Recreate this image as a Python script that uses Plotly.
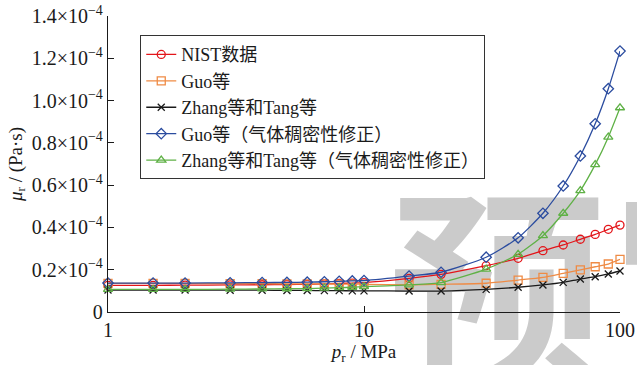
import numpy as np
import plotly.graph_objects as go

# Reduced pressure (MPa)
pressure = [1, 1.5, 2, 3, 4, 5, 6, 7, 8, 9, 10,
            15, 20, 30, 40, 50, 60, 70, 80, 90, 100]

# Viscosity values, in units of 1e-5 Pa·s
nist = [1.26, 1.26, 1.27, 1.28, 1.29, 1.30, 1.31, 1.33, 1.35, 1.37, 1.39,
        1.59, 1.78, 2.19, 2.54, 2.90, 3.17, 3.44, 3.67, 3.91, 4.11]
guo = [1.35, 1.35, 1.35, 1.34, 1.34, 1.33, 1.33, 1.33, 1.32, 1.32, 1.31,
       1.28, 1.31, 1.36, 1.51, 1.64, 1.83, 1.99, 2.14, 2.27, 2.49]
zhang_tang = [1.04, 1.04, 1.04, 1.03, 1.03, 1.02, 1.02, 1.01, 1.01, 1.00, 1.00,
              0.99, 0.99, 1.07, 1.17, 1.28, 1.40, 1.56, 1.67, 1.80, 1.94]
guo_dense = [1.37, 1.37, 1.37, 1.38, 1.39, 1.40, 1.41, 1.43, 1.45, 1.47, 1.49,
             1.70, 1.88, 2.59, 3.51, 4.67, 5.96, 7.38, 8.90, 10.56, 12.34]
zhang_tang_dense = [1.07, 1.07, 1.07, 1.08, 1.09, 1.10, 1.11, 1.13, 1.15, 1.17, 1.20,
                    1.28, 1.39, 2.03, 2.73, 3.61, 4.67, 5.74, 6.97, 8.27, 9.66]

series_names = ["NIST数据", "Guo等", "Zhang等和Tang等",
                "Guo等（气体稠密性修正）", "Zhang等和Tang等（气体稠密性修正）"]

y_tick_vals = [0, 0.2e-4, 0.4e-4, 0.6e-4, 0.8e-4, 1.0e-4, 1.2e-4, 1.4e-4]
y_tick_text = ["0", "0.2×10<sup>−4</sup>", "0.4×10<sup>−4</sup>", "0.6×10<sup>−4</sup>",
               "0.8×10<sup>−4</sup>", "1.0×10<sup>−4</sup>", "1.2×10<sup>−4</sup>",
               "1.4×10<sup>−4</sup>"]

SERIF = "Liberation Serif, Times New Roman, Noto Sans CJK SC, serif"

styles = [
    ("#e3151a", "circle-open"),
    ("#ef8b45", "square-open"),
    ("#1a1a1a", "x-thin-open"),
    ("#2b4c9f", "diamond-open"),
    ("#5fb146", "triangle-up-open"),
]
values = [nist, guo, zhang_tang, guo_dense, zhang_tang_dense]

fig = go.Figure()

# Background watermark, drawn first so the curves sit over it
fig.add_trace(go.Scatter(
    x=[87], y=[4.8e-5], mode="text", text=["预览"], textposition="bottom center",
    textfont=dict(family="Noto Sans CJK SC", size=215, color="#cbcbcb", weight="bold"),
    cliponaxis=False, showlegend=False, hoverinfo="skip",
))

for name, vals, (color, symbol) in zip(series_names, values, styles):
    fig.add_trace(go.Scatter(
        x=pressure, y=np.array(vals) * 1e-5, name=name,
        mode="lines+markers",
        line=dict(color=color, width=1.3, shape="spline", smoothing=0.6),
        marker=dict(symbol=symbol, size=8 if symbol != "x-thin-open" else 7,
                    color=color, line=dict(color=color, width=1.3)),
        cliponaxis=False,
    ))

fig.update_layout(
    width=637, height=365,
    margin=dict(l=108, r=17, t=16, b=53, autoexpand=False),
    paper_bgcolor="white", plot_bgcolor="rgba(0,0,0,0)",
    font=dict(family=SERIF, size=18, color="#1a1a1a"),
    showlegend=True,
    legend=dict(
        x=0.063, y=0.935, xanchor="left", yanchor="top",
        bgcolor="white", bordercolor="#333333", borderwidth=1,
        font=dict(family=SERIF, size=18, color="#1a1a1a"),
        tracegroupgap=0,
    ),
)

fig.update_xaxes(
    type="log", range=[0, 2], automargin=False,
    tickvals=[1, 10, 100], ticktext=["1", "10", "100"],
    ticks="inside", ticklen=6, tickwidth=1.2, tickcolor="#1a1a1a",
    showline=True, linecolor="#1a1a1a", linewidth=1.3,
    showgrid=False, zeroline=False,
    tickfont=dict(family=SERIF, size=20),
    title=dict(text="<i>p</i><sub>r</sub> / MPa", font=dict(family=SERIF, size=19), standoff=4),
)
fig.update_yaxes(
    range=[0, 1.4e-4], automargin=False,
    tickvals=y_tick_vals, ticktext=y_tick_text,
    ticks="inside", ticklen=6, tickwidth=1.2, tickcolor="#1a1a1a",
    showline=True, linecolor="#1a1a1a", linewidth=1.3,
    showgrid=False, zeroline=False,
    tickfont=dict(family=SERIF, size=20),
    title=dict(text="<i>μ</i><sub>r</sub> / (Pa·s)", font=dict(family=SERIF, size=19), standoff=4),
)

fig.write_html("out.html")
